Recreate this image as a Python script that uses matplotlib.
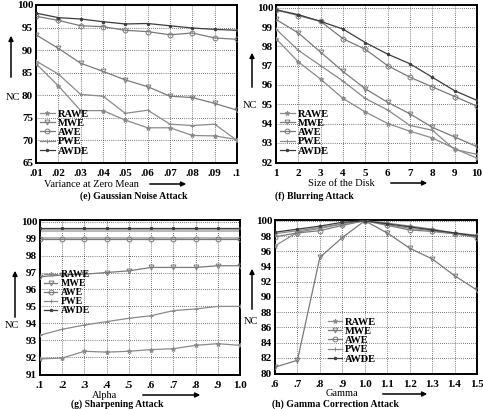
import matplotlib
matplotlib.use("Agg")
import matplotlib.pyplot as plt

plt.rcParams["font.family"] = ["Liberation Serif", "DejaVu Serif"]

SERIES = ["RAWE", "MWE", "AWE", "PWE", "AWDE"]
MARKERS = {"RAWE": "*", "MWE": "v", "AWE": "o", "PWE": "+", "AWDE": "."}
COLORS = {"RAWE": "#8a8a8a", "MWE": "#7a7a7a", "AWE": "#7a7a7a", "PWE": "#8a8a8a", "AWDE": "#3c3c3c"}

# (e) Gaussian noise
e_x = [0.01, 0.02, 0.03, 0.04, 0.05, 0.06, 0.07, 0.08, 0.09, 0.10]
e_labels = [".01", ".02", ".03", ".04", ".05", ".06", ".07", ".08", ".09", ".1"]
e_rawe = [87.0, 82.1, 76.6, 76.6, 74.5, 72.8, 72.8, 71.1, 71.0, 70.2]
e_mwe = [93.4, 90.4, 87.1, 85.3, 83.4, 81.9, 79.8, 79.5, 78.2, 76.7]
e_awe = [97.5, 96.6, 95.4, 95.2, 94.4, 94.1, 93.4, 93.8, 92.7, 92.4]
e_pwe = [87.6, 84.7, 80.2, 79.8, 76.0, 76.7, 73.6, 73.3, 73.6, 70.0]
e_awde = [98.2, 97.2, 96.9, 96.3, 95.8, 95.9, 95.4, 94.9, 94.6, 94.4]

# (f) Blurring
f_x = [1, 2, 3, 4, 5, 6, 7, 8, 9, 10]
f_labels = ["1", "2", "3", "4", "5", "6", "7", "8", "9", "10"]
f_rawe = [98.4, 97.2, 96.3, 95.3, 94.6, 94.0, 93.6, 93.25, 92.7, 92.2]
f_mwe = [99.4, 98.7, 97.7, 96.7, 95.8, 95.1, 94.5, 93.8, 93.3, 92.8]
f_awe = [99.9, 99.6, 99.3, 98.4, 97.85, 97.0, 96.4, 95.9, 95.4, 94.9]
f_pwe = [98.9, 97.8, 97.0, 96.2, 95.3, 94.7, 93.9, 93.65, 92.65, 92.4]
f_awde = [99.9, 99.65, 99.3, 98.9, 98.2, 97.6, 97.1, 96.4, 95.7, 95.2]

# (g) Sharpening
g_x = [0.1, 0.2, 0.3, 0.4, 0.5, 0.6, 0.7, 0.8, 0.9, 1.0]
g_labels = [".1", ".2", ".3", ".4", ".5", ".6", ".7", ".8", ".9", "1.0"]
g_rawe = [91.9, 91.95, 92.35, 92.3, 92.35, 92.45, 92.5, 92.7, 92.8, 92.7]
g_mwe = [96.75, 96.85, 96.9, 97.0, 97.1, 97.3, 97.3, 97.3, 97.4, 97.4]
g_awe = [98.95, 98.95, 98.95, 98.95, 98.95, 98.95, 98.95, 98.95, 98.95, 98.95]
g_pwe = [93.3, 93.65, 93.9, 94.1, 94.3, 94.45, 94.75, 94.85, 95.0, 95.0]
g_awde = [99.6, 99.6, 99.6, 99.6, 99.6, 99.6, 99.6, 99.6, 99.6, 99.6]
g_band_hi = [99.5] * 10
g_band_lo = [99.02] * 10

# (h) Gamma correction
h_x = [0.6, 0.7, 0.8, 0.9, 1.0, 1.1, 1.2, 1.3, 1.4, 1.5]
h_labels = [".6", ".7", ".8", ".9", "1.0", "1.1", "1.2", "1.3", "1.4", "1.5"]
h_rawe = [96.7, 98.5, 99.0, 99.6, 100.0, 99.7, 99.3, 98.9, 98.4, 98.1]
h_mwe = [80.8, 81.7, 95.2, 97.8, 100.0, 98.4, 96.4, 95.0, 92.8, 90.9]
h_awe = [97.9, 98.4, 98.7, 99.4, 100.0, 99.4, 98.8, 98.6, 98.3, 97.8]
h_pwe = [98.3, 98.7, 99.1, 99.6, 100.0, 99.5, 99.0, 98.7, 98.3, 97.9]
h_awde = [98.5, 98.9, 99.3, 99.8, 100.0, 99.6, 99.2, 98.8, 98.4, 98.0]


def px(x, y, w, h):
    """Pixel box (top-left origin) to figure fraction rect."""
    W, H = 483.0, 409.0
    return [x / W, 1 - (y + h) / H, w / W, h / H]


def draw_panel(fig, rect, x, labels, data, ylim, yticks, legend_loc, leg_size=7.5):
    ax = fig.add_axes(rect)
    for name in SERIES:
        ax.plot(x, data[name], color=COLORS[name], lw=0.9, marker=MARKERS[name],
                ms=3.5, mfc="none" if name in ("MWE", "AWE") else COLORS[name],
                mec=COLORS[name], mew=0.7, label=name, zorder=3)
    ax.set_xlim(x[0], x[-1])
    ax.set_ylim(*ylim)
    ax.set_xticks(x)
    ax.set_xticklabels(labels)
    ax.set_yticks(yticks)
    ax.grid(True, color="black", ls=(0, (1, 2)), lw=0.5)
    for s in ax.spines.values():
        s.set_linewidth(1.4)
    ax.tick_params(axis="y", length=0, pad=2, labelsize=8)
    ax.tick_params(axis="x", length=0, pad=4, labelsize=8)
    for t in ax.get_xticklabels() + ax.get_yticklabels():
        t.set_fontweight("bold")
    leg = ax.legend(loc="lower left", bbox_to_anchor=legend_loc, frameon=False,
                    fontsize=leg_size, handlelength=1.4, handletextpad=0.3,
                    labelspacing=0.0, borderaxespad=0)
    for t in leg.get_texts():
        t.set_fontweight("bold")
    return ax


def arrow(fig, x0, y0, x1, y1):
    W, H = 483.0, 409.0
    fig.add_artist(matplotlib.patches.FancyArrowPatch(
        (x0 / W, 1 - y0 / H), (x1 / W, 1 - y1 / H), transform=fig.transFigure,
        arrowstyle="-|>", mutation_scale=7, lw=1.1, color="black"))


def text(fig, x, y, s, bold=False, ha="center", size=7.5):
    fig.text(x / 483.0, 1 - y / 409.0, s, ha=ha, va="center", fontsize=size,
             fontweight="bold" if bold else "normal")


fig = plt.figure(figsize=(4.83, 4.09), dpi=100)

draw_panel(fig, px(36, 5, 201, 158), e_x, e_labels,
           dict(zip(SERIES, [e_rawe, e_mwe, e_awe, e_pwe, e_awde])),
           (65, 100), range(65, 101, 5), (0.0, 0.02))
draw_panel(fig, px(276, 5, 201, 158), f_x, f_labels,
           dict(zip(SERIES, [f_rawe, f_mwe, f_awe, f_pwe, f_awde])),
           (91.95, 100.15), range(92, 101), (0.0, 0.02))
ax_g = draw_panel(fig, px(40, 220, 200, 155), g_x, g_labels,
                  dict(zip(SERIES, [g_rawe, g_mwe, g_awe, g_pwe, g_awde])),
                  (90.95, 100.1), range(91, 101), (0.0, 0.36), leg_size=7)
ax_g.plot(g_x, g_band_hi, color="#b8b8b8", lw=2.2, zorder=2)
ax_g.plot(g_x, g_band_lo, color="#b8b8b8", lw=2.2, zorder=2)
draw_panel(fig, px(275, 220, 202, 154), h_x, h_labels,
           dict(zip(SERIES, [h_rawe, h_mwe, h_awe, h_pwe, h_awde])),
           (79.9, 100.1), range(80, 101, 2), (0.24, 0.04))

# y labels with arrows
text(fig, 13, 97, "NC")
arrow(fig, 11, 80, 11, 33)
text(fig, 257, 105, "NC", ha="right")
arrow(fig, 252, 90, 252, 50)
text(fig, 12, 326, "NC")
arrow(fig, 15, 320, 15, 268)
text(fig, 258, 322, "NC", ha="right")
arrow(fig, 252, 312, 252, 266)

# x labels with arrows
text(fig, 91, 184, "Variance at Zero Mean")
arrow(fig, 147, 184, 189, 184)
text(fig, 341, 183, "Size of the Disk")
arrow(fig, 388, 183, 430, 183)
text(fig, 105, 395, "Alpha")
arrow(fig, 140, 395, 203, 395)
text(fig, 342, 394, "Gamma")
arrow(fig, 380, 394, 430, 394)

# captions
text(fig, 134, 196, "(e) Gaussian Noise Attack", bold=True, size=7)
text(fig, 275, 196, "(f) Blurring Attack", bold=True, ha="left", size=7)
text(fig, 117, 404, "(g) Sharpening Attack", bold=True, size=7)
text(fig, 335, 404, "(h) Gamma Correction Attack", bold=True, size=7)

fig.savefig("out.png", dpi=100)
